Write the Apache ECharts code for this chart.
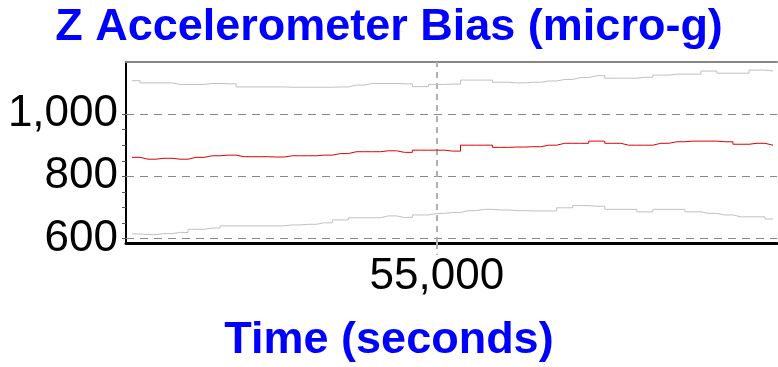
<!DOCTYPE html>
<html>
<head>
<meta charset="utf-8">
<script src="https://cdn.jsdelivr.net/npm/echarts@6/dist/echarts.min.js"></script>
<style>html,body{margin:0;padding:0;background:#fff}#c{width:778px;height:367px}</style>
</head>
<body>
<div id="c"></div>
<script>
var times = [50720, 50945, 51170, 51395, 51620, 51845, 52070, 52295, 52520, 52745,
  52970, 53195, 53420, 53645, 53870, 54095, 54320, 54545, 54770, 54995,
  55220, 55445, 55670, 55895, 56120, 56345, 56570, 56795, 57020, 57245,
  57470, 57695, 57920, 58145, 58370, 58595, 58820, 59045, 59270, 59495, 59720];
var upperBound = [1107, 1100, 1100, 1095, 1095, 1098, 1097, 1087, 1087, 1087,
  1086, 1086, 1086, 1087, 1093, 1098, 1098, 1097, 1088, 1095,
  1096, 1109, 1109, 1102, 1100, 1102, 1106, 1111, 1117, 1123,
  1115, 1115, 1118, 1125, 1128, 1128, 1138, 1131, 1131, 1141, 1138];
var bias = [861, 855, 858, 855, 861, 866, 868, 863, 863, 862,
  866, 866, 868, 873, 879, 879, 882, 877, 884, 884,
  881, 900, 900, 893, 894, 895, 900, 906, 906, 913,
  906, 900, 900, 906, 911, 913, 913, 911, 903, 906, 900];
var lowerBound = [615, 613, 616, 620, 630, 634, 641, 641, 641, 641,
  644, 646, 651, 660, 667, 667, 673, 668, 676, 681,
  684, 690, 694, 692, 690, 689, 689, 699, 706, 704,
  694, 694, 686, 694, 694, 686, 681, 676, 670, 670, 663];
var xTickLabels = [55000];
var yTickLabels = [600, 800, 1000];
var yMinorTicks = [600, 650, 700, 750, 800, 850, 900, 950, 1000];
var xRange = [50636, 59776];
var yRange = [586, 1167];

function pairs(vals) { return times.map(function (t, i) { return [t, vals[i]]; }); }
function fmt(v) { return Number(v).toLocaleString('en-US'); }
var FONT = '"Liberation Sans", Arial, sans-serif';

var chart = echarts.init(document.getElementById('c'), null, { renderer: 'canvas' });
chart.setOption({
  animation: false,
  backgroundColor: '#fff',
  title: [{
    text: 'Z Accelerometer Bias (micro-g)',
    left: 'center', top: 0,
    textStyle: { fontFamily: FONT, fontSize: 45, fontWeight: 'bold', color: '#0000ff' }
  }, {
    text: 'Time (seconds)',
    left: 'center', top: 313,
    textStyle: { fontFamily: FONT, fontSize: 45, fontWeight: 'bold', color: '#0000ff' }
  }],
  grid: { left: 126, right: 1, top: 62, bottom: 124, containLabel: false },
  xAxis: [{
    type: 'value', min: xRange[0], max: xRange[1], position: 'bottom',
    axisLine: { show: true, onZero: false, lineStyle: { color: '#000', width: 3 } },
    axisTick: { show: true, customValues: xTickLabels, length: 12, inside: false,
      lineStyle: { color: '#b0b0b0', width: 2, type: [6, 5] } },
    axisLabel: { customValues: xTickLabels, margin: 12, formatter: fmt,
      fontFamily: FONT, fontSize: 44, color: '#000' },
    splitLine: { show: false }
  }, {
    type: 'value', min: xRange[0], max: xRange[1], position: 'top',
    axisLine: { show: true, onZero: false, lineStyle: { color: '#888', width: 2 } },
    axisTick: { show: false }, axisLabel: { show: false }, splitLine: { show: false }
  }],
  yAxis: {
    type: 'value', min: yRange[0], max: yRange[1],
    axisLine: { show: true, onZero: false, lineStyle: { color: '#000', width: 2 } },
    axisTick: { show: true, customValues: yMinorTicks, length: 4, lineStyle: { color: '#555', width: 1 } },
    axisLabel: { customValues: yTickLabels, margin: 8, formatter: fmt,
      fontFamily: FONT, fontSize: 44, color: '#000' },
    splitLine: { show: false }
  },
  series: [{
    name: 'upper', type: 'line', step: 'middle', data: pairs(upperBound),
    showSymbol: false, symbol: 'none', lineStyle: { color: '#c0c0c0', width: 1 }, z: 3,
    markLine: {
      silent: true, symbol: 'none', label: { show: false },
      data: [
        { yAxis: 600, lineStyle: { color: '#888', width: 1, type: [8, 6] } },
        { yAxis: 800, lineStyle: { color: '#888', width: 1, type: [8, 6] } },
        { yAxis: 1000, lineStyle: { color: '#888', width: 1, type: [8, 6] } },
        { xAxis: 55000, lineStyle: { color: '#b0b0b0', width: 2, type: [6, 5] } }
      ],
      z: 1
    }
  }, {
    name: 'bias', type: 'line', step: 'middle', data: pairs(bias),
    showSymbol: false, symbol: 'none', lineStyle: { color: '#e00000', width: 1 }, z: 4
  }, {
    name: 'lower', type: 'line', step: 'middle', data: pairs(lowerBound),
    showSymbol: false, symbol: 'none', lineStyle: { color: '#c0c0c0', width: 1 }, z: 3
  }]
});
</script>
</body>
</html>
